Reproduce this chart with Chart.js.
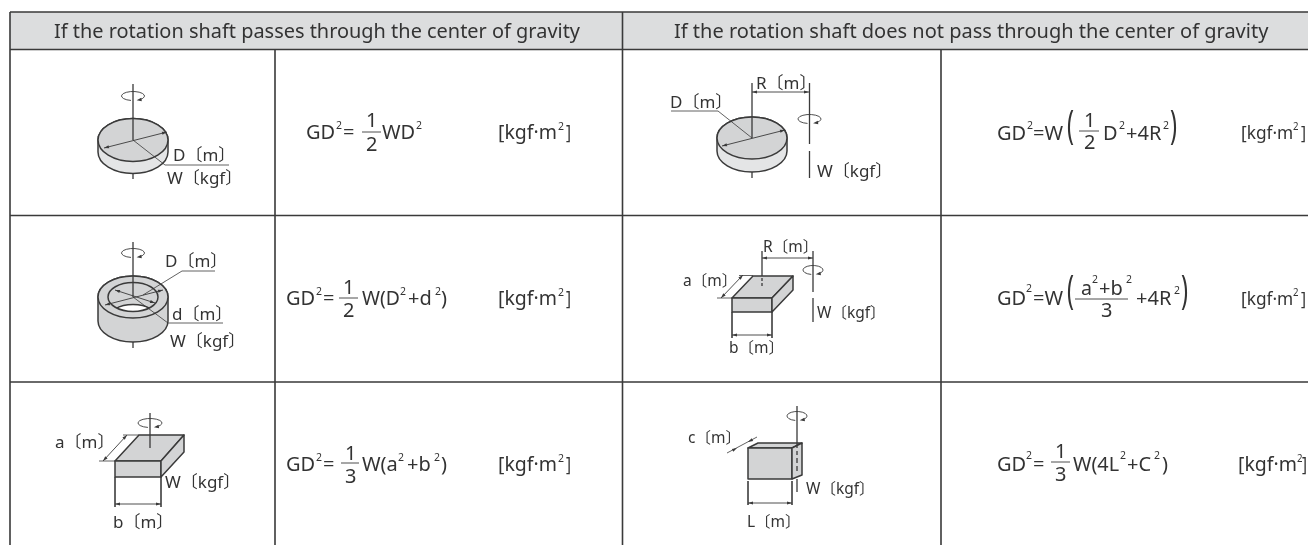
<!DOCTYPE html>
<html>
<head>
<meta charset="utf-8">
<style>html,body{margin:0;padding:0;background:#fff}canvas{display:block}</style>
<script src="https://cdn.jsdelivr.net/npm/chart.js@4"></script>
</head>
<body>
<canvas id="c" width="1308" height="545"></canvas>
<script>
// table rules: [x1,y1,x2,y2]
const gridRules = [
  [10,12,1308,12],[10,49.5,1308,49.5],[10,215.5,1308,215.5],[10,382,1308,382],
  [10,12,10,545],[622.5,12,622.5,545],[275,49,275,545],[941,49,941,545]
];
// solid outlines and shafts
const heavyLines = [
  [133,84,133,140],[133,173,133,179],
  [133,242,133,297],[133,342,133,348],
  [150,413,150,448],
  [752,83,752,138],[752,172,752,178],[809.5,83,809.5,144],[809.5,151,809.5,178],
  [762,251,762,276],[762,278,762,281],[762,283,762,286],[813,251,813,292],[813,298,813,322],
  [797,406,797,448],[797,451,797,455],[797,458,797,463],[797,466,797,471],[797,479,797,492]
];
// leaders, extension lines
const thinLines = [
  [133,140,165,165],[165,165,229,165],
  [143,295,182,271],[182,271,215,271],[133,297,168,323],[168,323,223,323],
  [99,461,115,461],[123,435,139,435],[115,477,115,507],[161,477,161,507],
  [752,138,718,111],[718,111,671,111],
  [717,298,732,298],[739,275.5,753,275.5],[732,312,732,338],[772,312,772,338],
  [748,481,748,505],[792,481,792,505],
  [727,453,757,437]
];
// double-headed dimension arrows
const dimArrows = [
  [104,148,167,132],
  [105,305,163,290],[115,290,155,303],
  [103,461,127,435],[115,504,161,504],
  [722,146,785,130],[752,92,809,92],
  [721,298,743,275],[732,335,772,335],[762,258,813,258],
  [748,503,792,503]
];
// single arrow heads: x,y,angle in degrees
const pointHeads = [[737,448,-28],[748,442,152]];
// rotation marks: cx,cy,rx,ry
const rotations = [[133,96,11.5,4.5],[133,253,11.5,4.5],[150,423,12,4.5],[809.5,119,11.5,4.5],[813,270,10,4.5],[797,416,10,4.5]];
// discs: cx,cy,rx,ry,depth
const discs = [[133,140,35,21.5,12],[752,138,35,21,13]];
// ring: cx,cy,rx,ry,depth,innerRx,innerRy
const rings = [[133,297,35,21,24,25,14.5]];
// polygons
const polys = [
  [[115,461],[139,435],[184,435],[161,461]],[[115,461],[161,461],[161,477],[115,477]],[[161,461],[184,435],[184,452],[161,477]],
  [[732,298],[753,276],[793,276],[772,298]],[[732,298],[772,298],[772,312],[732,312]],[[772,298],[793,276],[793,290],[772,312]],
  [[748,448],[758,443],[802,443],[792,448]],[[748,448],[792,448],[792,479],[748,479]],[[792,448],[802,443],[802,475],[792,479]]
];
// fraction bars
const fracBars = [[362,381,132],[339,358,298],[341,359,463],[1079,1099,131],[1075,1128,299],[1051,1070,462]];
// header texts
const headers = [
  ["If the rotation shaft passes through the center of gravity",54,38,20,526],
  ["If the rotation shaft does not pass through the center of gravity",674,38,20,596]
];
// diagram labels: text,x,baseline,size
const labels = [
  ["D〔m〕",173,161,17],["W〔kgf〕",167,184,17],
  ["D〔m〕",165,267,17],["d〔m〕",172,320,17],["W〔kgf〕",170,347,17],
  ["a〔m〕",55,448,17],["b〔m〕",113,528,17],["W〔kgf〕",165,488,17],
  ["R〔m〕",756,89,17],["D〔m〕",670,108,17],["W〔kgf〕",817,177,17],
  ["R〔m〕",763,252,15.5],["a〔m〕",683,286,15.5],["b〔m〕",729,353,15.5],["W〔kgf〕",817,318,15.5],
  ["c〔m〕",688,443,15.5],["L〔m〕",747,527,15.5],["W〔kgf〕",806,494,15.5]
];
// formula fragments: text,x,baseline,size,maxWidth
const formulas = [
  ["GD",306,139,20,30],["2",336,129,11,6],["=",343,139,20,13],["1",366,127,20],["2",366,151,20],["WD",382,139,20,34],["2",416,129,11,6],
  ["[kgf·m",498,139,19.5],["2",558,130,11,6],["]",566,139,19.5,5],
  ["GD",286,305,20,30],["2",316,295,11,6],["=",323,305,20,13],["1",343,294,20],["2",343,317,20],["W(D",362,305,20,38],["2",400,295,11,6],["+d",408,305,20,27],["2",435,295,11,6],[")",441,305,20,7],
  ["[kgf·m",498,305,19.5],["2",558,296,11,6],["]",566,305,19.5,5],
  ["GD",286,471,20,30],["2",316,461,11,6],["=",323,471,20,13],["1",345,460,20],["3",345,483,20],["W(a",362,471,20,36],["2",398,461,11,6],["+b",407,471,20,27],["2",434,461,11,6],[")",441,471,20,7],
  ["[kgf·m",498,471,19.5],["2",558,462,11,6],["]",566,471,19.5,5],
  ["GD",997,140,20,30],["2",1027,129,11,6],["=W",1033,140,20,33],["(",1067,139,40,7],["1",1084,127,20],["2",1084,149,20],["D",1103,140,20,15],["2",1119,129,11,6],["+4R",1126,140,20,37],["2",1163,129,11,6],[")",1170,139,40,7],
  ["[kgf·m",1241,139,17.3],["2",1293,130,10,5.5],["]",1301,139,17.3,5],
  ["GD",997,305,20,30],["2",1026,292,11,6],["=W",1033,305,20,33],["(",1067,304,40,7],["a",1081,295,20,11],["2",1092,283,11,6],["+b",1099,295,20,26],["2",1126,283,11,6],["3",1101,317,20],["+4R",1136,305,20,37],["2",1174,294,11,6],[")",1181,304,40,7],
  ["[kgf·m",1241,305,17.3],["2",1293,296,10,5.5],["]",1301,305,17.3,5],
  ["GD",997,471,20,30],["2",1026,459,11,6],["=",1033,471,20,13],["1",1055,458,20],["3",1055,481,20],["W(4L",1073,471,20,46],["2",1120,459,11,6],["+C",1127,471,20,27],["2",1154,459,11,6],[")",1162,471,20,7],
  ["[kgf·m",1238,471,19.5],["2",1297,462,10,5.5],["]",1302,471,19.5,5]
];

const INK = "#3a3a3a", GREY = "#d3d4d5", BAND = "#e4e5e6", HEAD = "#dcddde", FONT = '"Noto Sans","Noto Sans CJK JP",sans-serif';

function toPoints(segs){
  const out = [];
  segs.forEach(s => { out.push({x:s[0],y:s[1]},{x:s[2],y:s[3]},{x:null,y:null}); });
  return out;
}
function lineDataset(segs,width,color){
  return {data:toPoints(segs),showLine:true,borderColor:color,borderWidth:width,pointRadius:0,spanGaps:false,clip:false,tension:0,order:0};
}

const artwork = {
  id:"artwork",
  beforeDatasetsDraw(chart){
    const c = chart.ctx, X = v => chart.scales.x.getPixelForValue(v), Y = v => chart.scales.y.getPixelForValue(v);
    c.save();
    c.fillStyle = HEAD;
    c.fillRect(X(10),Y(12),X(1308)-X(10),Y(49.5)-Y(12));
    c.strokeStyle = INK; c.lineWidth = 1.5;

    const cyl = (d,band) => {
      const [cx,cy,rx,ry,dp] = d, x = X(cx), y = Y(cy);
      c.fillStyle = band;
      c.beginPath();
      c.ellipse(x,y+dp,rx,ry,0,0,Math.PI);
      c.lineTo(x-rx,y);
      c.ellipse(x,y,rx,ry,0,Math.PI,2*Math.PI);
      c.closePath(); c.fill(); c.stroke();
      c.fillStyle = GREY;
      c.beginPath(); c.ellipse(x,y,rx,ry,0,0,2*Math.PI); c.fill(); c.stroke();
    };
    discs.forEach(d => cyl(d,BAND));
    rings.forEach(d => cyl(d,GREY));
    rings.forEach(d => {
      const [cx,cy,,,dp,irx,iry] = d, x = X(cx), y = Y(cy);
      c.save();
      c.beginPath(); c.ellipse(x,y,irx,iry,0,0,2*Math.PI); c.clip();
      c.fillStyle = "#fff";
      c.beginPath(); c.ellipse(x,y+dp*0.92,irx,iry,0,0,2*Math.PI); c.fill(); c.stroke();
      c.restore();
      c.beginPath(); c.ellipse(x,y,irx,iry,0,0,2*Math.PI); c.stroke();
    });
    c.lineJoin = "round";
    polys.forEach(p => {
      c.fillStyle = GREY;
      c.beginPath();
      p.forEach((q,i) => i ? c.lineTo(X(q[0]),Y(q[1])) : c.moveTo(X(q[0]),Y(q[1])));
      c.closePath(); c.fill(); c.stroke();
    });
    c.restore();
  },
  afterDatasetsDraw(chart){
    const c = chart.ctx, X = v => chart.scales.x.getPixelForValue(v), Y = v => chart.scales.y.getPixelForValue(v);
    c.save();
    c.strokeStyle = INK; c.fillStyle = INK;
    const head = (x,y,a,len,w) => {
      c.beginPath(); c.moveTo(x,y);
      c.lineTo(x-len*Math.cos(a)+w*Math.sin(a),y-len*Math.sin(a)-w*Math.cos(a));
      c.lineTo(x-len*Math.cos(a)-w*Math.sin(a),y-len*Math.sin(a)+w*Math.cos(a));
      c.closePath(); c.fill();
    };
    dimArrows.forEach(a => {
      const x1=X(a[0]),y1=Y(a[1]),x2=X(a[2]),y2=Y(a[3]),t=Math.atan2(y2-y1,x2-x1);
      c.lineWidth = 0.9;
      c.beginPath(); c.moveTo(x1,y1); c.lineTo(x2,y2); c.stroke();
      head(x2,y2,t,5,1.6); head(x1,y1,t+Math.PI,5,1.6);
    });
    pointHeads.forEach(p => head(X(p[0]),Y(p[1]),p[2]*Math.PI/180,5,1.6));
    rotations.forEach(r => {
      const [cx,cy,rx,ry] = r, x=X(cx), y=Y(cy), s=100*Math.PI/180, e=(360+55)*Math.PI/180;
      c.lineWidth = 0.9;
      c.beginPath(); c.ellipse(x,y,rx,ry,0,s,e); c.stroke();
      head(x+rx*Math.cos(e)-3,y+ry*Math.sin(e)+0.6,Math.PI*0.95,5,1.8);
    });
    c.fillStyle = INK; c.strokeStyle = INK; c.lineWidth = 0.9;
    fracBars.forEach(b => { c.beginPath(); c.moveTo(X(b[0]),Y(b[2])); c.lineTo(X(b[1]),Y(b[2])); c.stroke(); });
    c.textAlign = "left"; c.textBaseline = "alphabetic"; c.fillStyle = "#333";
    headers.concat(labels,formulas).forEach(t => {
      c.font = t[3]+"px "+FONT;
      if (t[4]) c.fillText(t[0],X(t[1]),Y(t[2]),t[4]); else c.fillText(t[0],X(t[1]),Y(t[2]));
    });
    c.restore();
  }
};

new Chart(document.getElementById("c"),{
  type:"scatter",
  data:{datasets:[
    lineDataset(gridRules,1.6,INK),
    lineDataset(heavyLines,1.3,INK),
    lineDataset(thinLines,0.8,INK)
  ]},
  options:{
    responsive:false,animation:false,
    layout:{padding:0},
    scales:{
      x:{type:"linear",min:0,max:1308,display:false},
      y:{type:"linear",min:0,max:545,reverse:true,display:false}
    },
    plugins:{legend:{display:false},tooltip:{enabled:false}}
  },
  plugins:[artwork]
});
</script>
</body>
</html>
